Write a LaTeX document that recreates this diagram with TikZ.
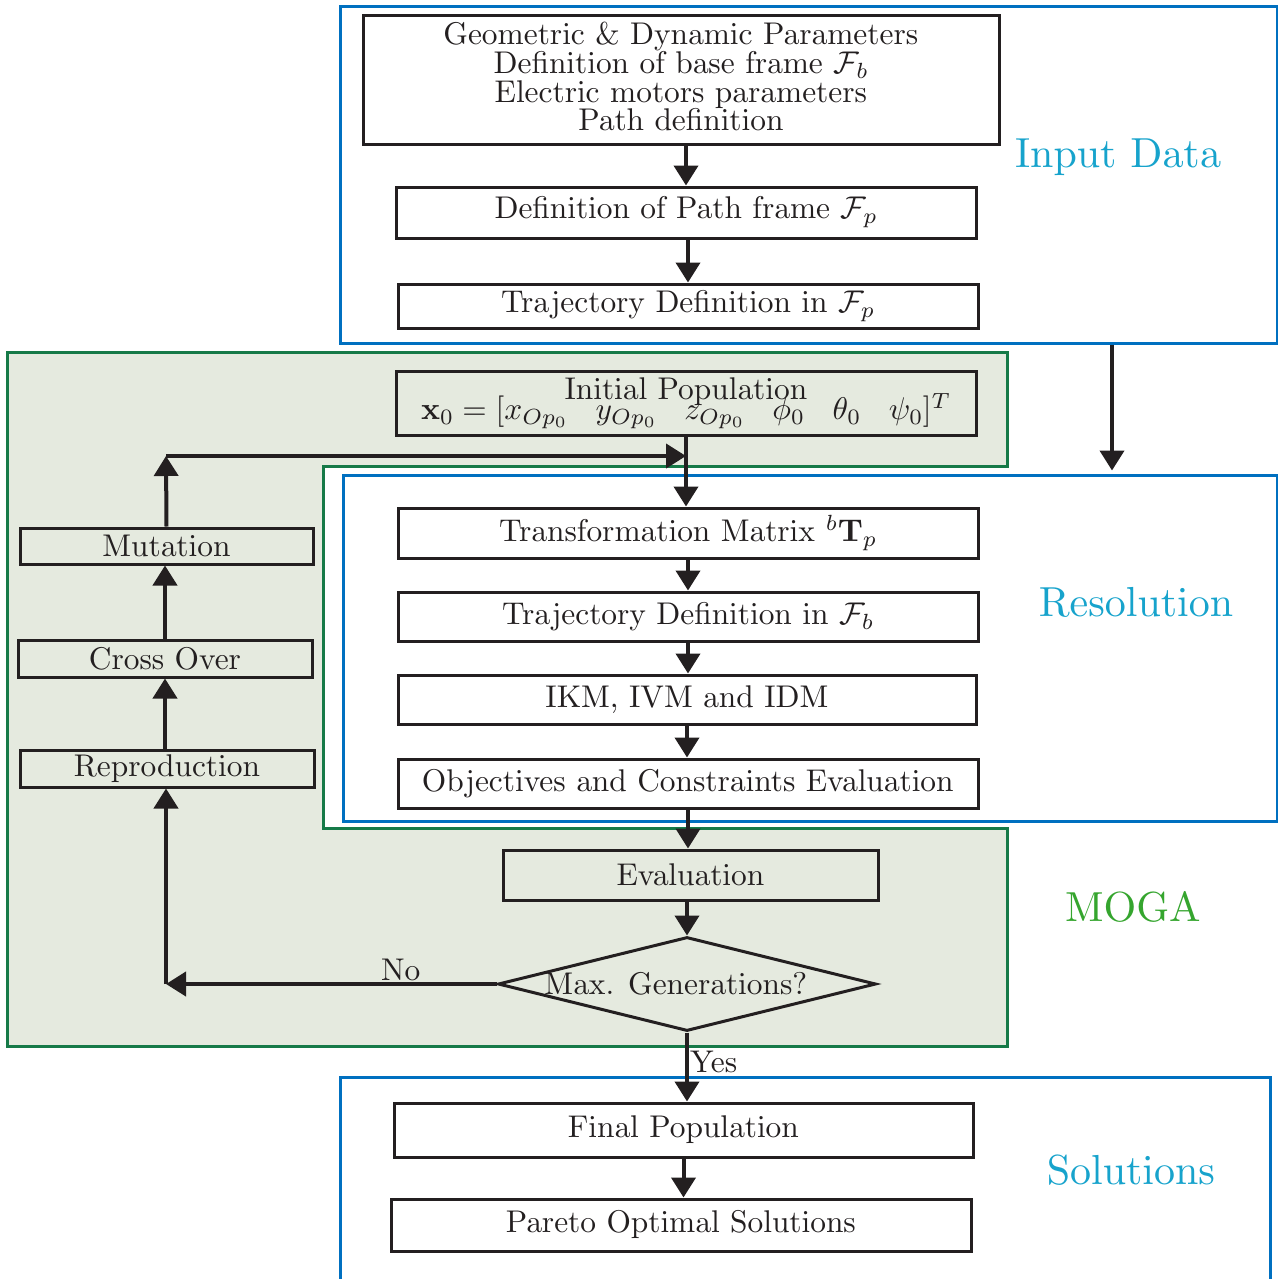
\RequirePackage{fix-cm}
\documentclass[tikz,border=0pt]{standalone}
\usepackage[OT1]{fontenc}
\renewcommand{\rmdefault}{cmr}
\DeclareFontShape{OT1}{cmr}{m}{n}{<-9>cmr5 <9-13>cmr7 <13->cmr10}{}
\DeclareFontShape{OT1}{cmr}{bx}{n}{<-9>cmbx5 <9-13>cmbx7 <13->cmbx10}{}
\DeclareFontShape{OML}{cmm}{m}{it}{<-9>cmmi5 <9-13>cmmi7 <13->cmmi10}{\skewchar\font127 }
\DeclareFontShape{OMS}{cmsy}{m}{n}{<-9>cmsy5 <9-13>cmsy7 <13->cmsy10}{\skewchar\font48 }
\usetikzlibrary{arrows.meta,shapes.geometric}
\definecolor{frameblue}{HTML}{0070C0}
\definecolor{labcyan}{HTML}{17A3CC}
\definecolor{mogagreen}{HTML}{167A48}
\definecolor{mogafill}{HTML}{E5EADF}
\definecolor{labgreen}{HTML}{35A52E}
\definecolor{ink}{HTML}{231F20}
\newcommand{\bfnt}{\fontsize{15.7}{14.35}\selectfont}
\newcommand{\lfnt}{\fontsize{21}{24}\selectfont}
\begin{document}
\begin{tikzpicture}[x=0.5pt,y=-0.5pt,
  box/.style={draw=ink, line width=1.5pt, inner sep=0pt, align=center, font=\bfnt, text=ink},
  frameb/.style={draw=frameblue, line width=1.5pt, inner sep=0pt},
  arr/.style={draw=ink, line width=2pt, -{Triangle[length=10pt,width=12pt]}},
  seclabel/.style={font=\lfnt, text=labcyan, inner sep=0pt},
  lbl/.style={font=\bfnt, text=ink, inner sep=1pt}]
\useasboundingbox (0,0) rectangle (1278,1279);
% MOGA region
\path[fill=mogafill, draw=mogagreen, line width=1.5pt]
  (7,352) -- (1007,352) -- (1007,466) -- (323,466) -- (323,828) -- (1007,828)
  -- (1007,1046) -- (7,1046) -- cycle;
% frames
\node[frameb, minimum width=468.5pt, minimum height=168pt] (inframe) at (808.5,175) {};
\node[frameb, minimum width=467pt, minimum height=173pt] (resframe) at (810,648) {};
\node[frameb, minimum width=465pt, minimum height=111pt] (solframe) at (805,1188) {};
% section labels
\node[seclabel] (lin) at (1118,157) {Input Data};
\node[seclabel] (lres) at (1136,602) {Resolution};
\node[seclabel, text=labgreen] (lmoga) at (1133,907) {MOGA};
\node[seclabel] (lsol) at (1131,1170) {Solutions};
% input boxes
\node[box, minimum width=318pt, minimum height=64pt] (b1) at (681,80)
  {Geometric \& Dynamic Parameters\\ Definition of base frame $\mathcal{F}_b$\\ Electric motors parameters\\ Path definition\rule[-3pt]{0pt}{3pt}};
\node[box, minimum width=290pt, minimum height=25.5pt] (b2) at (686,212.5) {Definition of Path frame $\mathcal{F}_p$};
\node[box, minimum width=290pt, minimum height=22pt] (b3) at (688,306) {Trajectory Definition in $\mathcal{F}_p$};
% initial population
\node[box, minimum width=290pt, minimum height=32pt] (init) at (686,403)
  {Initial Population\\[-7pt] $\mathbf{x}_{0}=[x_{Op_0}\hspace{14pt} y_{Op_0}\hspace{14pt} z_{Op_0}\hspace{14pt} \phi_{0}\hspace{14pt} \theta_{0}\hspace{14pt} \psi_{0}]^{T}$};
% resolution boxes
\node[box, minimum width=290pt, minimum height=25pt] (tm) at (688,533) {Transformation Matrix ${}^{b}\mathbf{T}_{p}$};
\node[box, minimum width=290pt, minimum height=24.5pt] (tdb) at (688,616.5) {Trajectory Definition in $\mathcal{F}_b$};
\node[box, minimum width=289pt, minimum height=24.5pt] (ikm) at (687,699.5) {IKM, IVM and IDM};
\node[box, minimum width=290pt, minimum height=24.5pt] (obj) at (688,783.5) {Objectives and Constraints Evaluation};
% MOGA boxes
\node[box, minimum width=187.5pt, minimum height=25pt] (eval) at (690.5,875) {Evaluation};
\node[box, diamond, aspect=4, minimum width=189pt, minimum height=47pt] (dia) at (687,984) {Max. Generations?\hspace{11pt}};
\node[box, minimum width=146.5pt, minimum height=18pt] (mut) at (166.5,546) {Mutation};
\node[box, minimum width=147pt, minimum height=18.5pt] (cross) at (165,658.5) {Cross Over};
\node[box, minimum width=147pt, minimum height=18.5pt] (repro) at (167,768.5) {Reproduction};
% solutions
\node[box, minimum width=289.5pt, minimum height=27pt] (final) at (683.5,1130) {Final Population};
\node[box, minimum width=290pt, minimum height=26pt] (pareto) at (681,1225) {Pareto Optimal Solutions};
% coordinates
\coordinate (fbtop) at (166,456);
\coordinate (nocorner) at (166,984);
\coordinate (bx) at (1112,0);
% connectors
\draw[arr] (b2.north |- b1.south) -- (b2.north);
\draw[arr] (b3.north |- b2.south) -- (b3.north);
\draw[arr] (inframe.south -| bx) -- ([yshift=1.5pt]resframe.north -| bx);
\draw[arr] (init.south) -- (init.south |- tm.north);
\draw[arr] (mut.north) -- (fbtop);
\draw[arr] (fbtop) -- (fbtop -| init.south);
\draw[arr] (tm.south) -- (tm.south |- tdb.north);
\draw[arr] (tdb.south) -- (tdb.south |- ikm.north);
\draw[arr] (ikm.south) -- (ikm.south |- obj.north);
\draw[arr] (obj.south) -- (obj.south |- eval.north);
\draw[arr] (eval.south -| dia.north) -- (dia.north);
\draw[arr] (dia.west) -- (nocorner) node[lbl, pos=0.29, above] {No};
\draw[arr] (nocorner) -- (nocorner |- repro.south);
\draw[arr] (cross.north) -- (cross.north |- mut.south);
\draw[arr] (repro.north -| cross.north) -- (cross.south);
\draw[arr] (dia.south) -- (dia.south |- final.north) node[lbl, pos=0.43, right, inner sep=0.5pt] {Yes};
\draw[arr] (final.south) -- (final.south |- pareto.north);
\end{tikzpicture}
\end{document}
